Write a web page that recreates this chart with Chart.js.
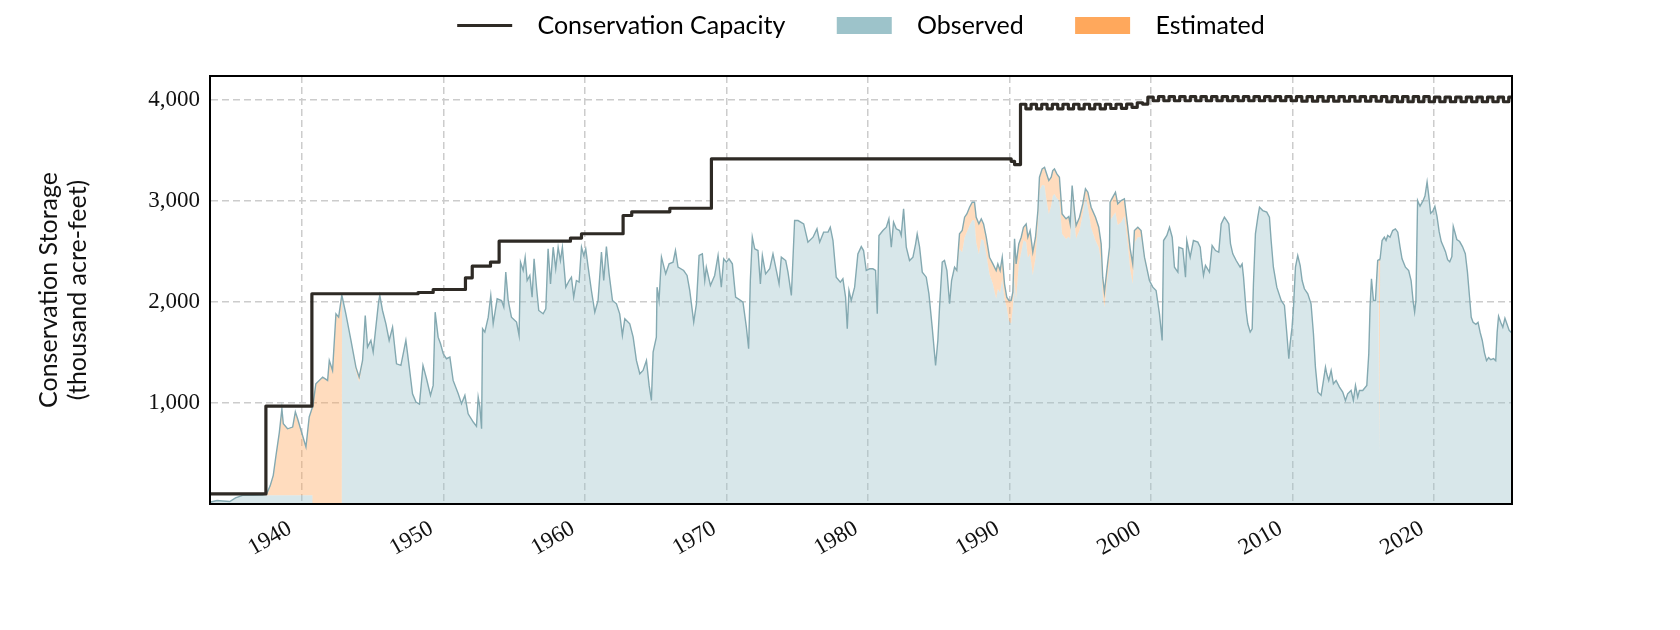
<!DOCTYPE html>
<html>
<head>
<meta charset="utf-8">
<title>Conservation Storage</title>
<script src="https://cdn.jsdelivr.net/npm/chart.js@4.4.1/dist/chart.umd.min.js"></script>
<style>
  html, body { margin: 0; padding: 0; background: #ffffff; }
  #wrap { width: 1680px; height: 630px; position: relative; }
</style>
</head>
<body>
<div id="wrap"><canvas id="storageChart"></canvas></div>
<script>
// ---------------------------------------
// Reservoir conservation storage, thousand acre-feet
// ---------------------------------------

// total storage line (observed + estimated)
const storageYears = [
  1933.55, 1934.0, 1934.4, 1934.9, 1935.3, 1935.8, 1936.5, 1937.2, 1937.5, 1937.75,
  1937.97, 1938.16, 1938.4, 1938.58, 1938.68, 1938.98, 1939.34, 1939.53, 1939.69, 1939.93,
  1940.28, 1940.51, 1940.74, 1940.76, 1940.98, 1941.46, 1941.81, 1941.93, 1942.16, 1942.4,
  1942.59, 1942.81, 1942.83, 1943.1, 1943.46, 1943.81, 1944.04, 1944.28, 1944.47, 1944.63,
  1944.87, 1945.03, 1945.41, 1945.5, 1945.69, 1945.93, 1946.16, 1946.4, 1946.68, 1946.99,
  1947.34, 1947.58, 1947.81, 1948.05, 1948.3, 1948.55, 1948.8, 1949.08, 1949.27, 1949.41,
  1949.62, 1949.79, 1949.98, 1950.21, 1950.45, 1950.68, 1951.04, 1951.27, 1951.51, 1951.74,
  1952.1, 1952.33, 1952.45, 1952.57, 1952.69, 1952.76, 1952.92, 1953.16, 1953.34, 1953.51,
  1953.79, 1954.1, 1954.26, 1954.4, 1954.57, 1954.8, 1955.16, 1955.34, 1955.44, 1955.63,
  1955.77, 1955.91, 1956.1, 1956.26, 1956.4, 1956.57, 1956.73, 1957.04, 1957.23, 1957.39,
  1957.56, 1957.75, 1957.93, 1958.1, 1958.26, 1958.4, 1958.64, 1958.88, 1959.04, 1959.2,
  1959.39, 1959.58, 1959.75, 1959.91, 1960.05, 1960.22, 1960.45, 1960.69, 1960.92, 1961.16,
  1961.32, 1961.51, 1961.7, 1961.94, 1962.22, 1962.45, 1962.64, 1962.81, 1963.16, 1963.4,
  1963.63, 1963.87, 1964.1, 1964.34, 1964.53, 1964.69, 1964.81, 1965.04, 1965.09, 1965.23,
  1965.4, 1965.7, 1965.94, 1966.22, 1966.39, 1966.57, 1966.97, 1967.21, 1967.4, 1967.68,
  1967.87, 1968.06, 1968.29, 1968.46, 1968.57, 1968.86, 1969.16, 1969.4, 1969.63, 1969.8,
  1969.99, 1970.17, 1970.41, 1970.64, 1970.93, 1971.16, 1971.4, 1971.56, 1971.68, 1971.82,
  1971.99, 1972.22, 1972.39, 1972.53, 1972.76, 1973.05, 1973.28, 1973.47, 1973.71, 1973.87,
  1974.18, 1974.34, 1974.58, 1974.81, 1975.05, 1975.45, 1975.75, 1976.11, 1976.39, 1976.58,
  1976.86, 1977.17, 1977.33, 1977.52, 1977.75, 1978.04, 1978.22, 1978.41, 1978.53, 1978.65,
  1978.81, 1979.05, 1979.28, 1979.52, 1979.68, 1979.87, 1980.11, 1980.34, 1980.53, 1980.65,
  1980.77, 1981.05, 1981.29, 1981.47, 1981.64, 1981.8, 1981.99, 1982.23, 1982.34, 1982.51,
  1982.7, 1982.93, 1983.17, 1983.36, 1983.47, 1983.64, 1983.83, 1984.11, 1984.3, 1984.53,
  1984.77, 1984.93, 1985.05, 1985.24, 1985.4, 1985.57, 1985.76, 1985.9, 1986.11, 1986.27,
  1986.46, 1986.65, 1986.82, 1986.98, 1987.17, 1987.36, 1987.52, 1987.64, 1987.83, 1988.0,
  1988.16, 1988.35, 1988.58, 1988.82, 1989.05, 1989.17, 1989.33, 1989.48, 1989.64, 1989.8,
  1989.95, 1990.11, 1990.23, 1990.35, 1990.46, 1990.65, 1990.82, 1990.98, 1991.17, 1991.29,
  1991.45, 1991.64, 1991.83, 1992.0, 1992.11, 1992.3, 1992.47, 1992.58, 1992.77, 1992.94,
  1993.05, 1993.17, 1993.34, 1993.52, 1993.71, 1993.99, 1994.18, 1994.28, 1994.42, 1994.58,
  1994.7, 1994.94, 1995.17, 1995.36, 1995.53, 1995.76, 1996.07, 1996.3, 1996.47, 1996.58,
  1996.7, 1996.87, 1997.06, 1997.1, 1997.29, 1997.48, 1997.64, 1997.88, 1998.11, 1998.35,
  1998.52, 1998.7, 1998.82, 1999.06, 1999.29, 1999.53, 1999.88, 2000.12, 2000.35, 2000.59,
  2000.78, 2000.88, 2001.11, 2001.3, 2001.49, 2001.65, 2001.89, 2001.96, 2002.24, 2002.43,
  2002.52, 2002.76, 2002.99, 2003.3, 2003.47, 2003.54, 2003.7, 2003.84, 2004.12, 2004.31,
  2004.55, 2004.78, 2004.95, 2005.18, 2005.35, 2005.49, 2005.61, 2005.77, 2006.01, 2006.29,
  2006.43, 2006.53, 2006.71, 2006.83, 2007.0, 2007.14, 2007.23, 2007.37, 2007.54, 2007.66,
  2007.89, 2008.17, 2008.36, 2008.48, 2008.64, 2008.88, 2009.19, 2009.42, 2009.59, 2009.73,
  2009.82, 2009.96, 2010.06, 2010.2, 2010.36, 2010.53, 2010.67, 2010.83, 2011.07, 2011.3,
  2011.47, 2011.61, 2011.78, 2012.01, 2012.18, 2012.32, 2012.41, 2012.55, 2012.72, 2012.88,
  2013.07, 2013.31, 2013.54, 2013.73, 2013.89, 2014.13, 2014.29, 2014.44, 2014.6, 2014.72,
  2014.95, 2015.24, 2015.38, 2015.47, 2015.57, 2015.71, 2015.85, 2016.01, 2016.08, 2016.11,
  2016.15, 2016.18, 2016.32, 2016.48, 2016.6, 2016.72, 2016.88, 2017.07, 2017.26, 2017.43,
  2017.59, 2017.73, 2017.97, 2018.2, 2018.37, 2018.52, 2018.62, 2018.71, 2018.83, 2019.0,
  2019.2, 2019.35, 2019.5, 2019.62, 2019.75, 2019.9, 2020.05, 2020.2, 2020.35, 2020.5,
  2020.65, 2020.8, 2020.95, 2021.1, 2021.25, 2021.35, 2021.45, 2021.6, 2021.8, 2022.0,
  2022.2, 2022.35, 2022.5, 2022.62, 2022.75, 2022.95, 2023.1, 2023.25, 2023.4, 2023.55,
  2023.7, 2023.85, 2024.0, 2024.2, 2024.35, 2024.45, 2024.55, 2024.7, 2024.85, 2025.0,
  2025.15, 2025.3, 2025.45
];

const storageValues = [
  20, 35, 30, 25, 60, 85, 86, 88, 100, 180,
  284, 478, 710, 942, 795, 745, 762, 912, 845, 730,
  565, 862, 960, 965, 1191, 1257, 1224, 1422, 1323, 1884,
  1851, 2066, 2060, 1884, 1620, 1356, 1257, 1422, 1867, 1554,
  1620, 1505, 2000, 2066, 1917, 1785, 1620, 1752, 1389, 1373,
  1620, 1356, 1092, 1010, 990, 1373, 1241, 1076, 1175, 1900,
  1653, 1587, 1488, 1439, 1455, 1224, 1092, 993, 1076, 894,
  812, 769, 1059, 960, 746, 1736, 1703, 1851, 2066, 1785,
  2033, 2016, 1950, 2297, 2016, 1851, 1802, 1670, 2396, 2313,
  2445, 2214, 2264, 2049, 2429, 2148, 1917, 1884, 1933, 2528,
  2181, 2544, 2330, 2544, 2412, 2544, 2148, 2214, 2247, 2049,
  2214, 2198, 2544, 2462, 2528, 2346, 2115, 1900, 2016, 2495,
  2214, 2550, 2280, 2016, 1983, 1884, 1670, 1835, 1785, 1653,
  1422, 1290, 1323, 1422, 1175, 1026, 1505, 1653, 2148, 2016,
  2445, 2280, 2379, 2396, 2511, 2346, 2313, 2264, 2115, 1802,
  1983, 2462, 2478, 2214, 2346, 2165, 2264, 2462, 2148, 2429,
  2396, 2429, 2379, 2049, 2023, 2000, 1752, 1538, 2214, 2643,
  2528, 2511, 2181, 2462, 2280, 2330, 2478, 2346, 2181, 2445,
  2412, 2297, 2066, 2808, 2808, 2775, 2594, 2643, 2726, 2594,
  2693, 2693, 2742, 2610, 2247, 2198, 2231, 2049, 1736, 2115,
  2016, 2148, 2478, 2550, 2511, 2313, 2330, 2330, 2313, 1884,
  2660, 2709, 2742, 2825, 2544, 2792, 2726, 2709, 2660, 2924,
  2544, 2412, 2445, 2577, 2676, 2544, 2297, 2247, 2082, 1752,
  1373, 1620, 1950, 2396, 2412, 2313, 1984, 2214, 2346, 2313,
  2676, 2709, 2841, 2874, 2940, 2990, 2990, 2841, 2775, 2825,
  2775, 2643, 2445, 2379, 2313, 2379, 2313, 2445, 2181, 2049,
  2016, 2016, 2099, 2627, 2379, 2577, 2643, 2742, 2775, 2643,
  2709, 2495, 2643, 2907, 3237, 3320, 3336, 3287, 3204, 3237,
  3303, 3320, 3270, 3237, 2874, 2825, 2848, 2775, 3155, 2907,
  2759, 2841, 2973, 3122, 3089, 2940, 2841, 2742, 2577, 2247,
  2099, 2313, 2544, 2990, 3040, 3089, 2973, 3006, 3023, 2742,
  2528, 2379, 2709, 2742, 2709, 2445, 2214, 2148, 2115, 1884,
  1620, 2610, 2660, 2742, 2643, 2346, 2297, 2544, 2528, 2247,
  2610, 2445, 2610, 2594, 2544, 2445, 2264, 2363, 2297, 2561,
  2511, 2495, 2775, 2841, 2808, 2775, 2577, 2478, 2412, 2346,
  2379, 2247, 1917, 1785, 1703, 1736, 2181, 2676, 2841, 2940,
  2907, 2891, 2841, 2610, 2346, 2148, 2016, 1967, 1686, 1439,
  1587, 1752, 1950, 2346, 2462, 2363, 2214, 2132, 2082, 1983,
  1686, 1356, 1109, 1076, 1224, 1356, 1290, 1224, 1323, 1191,
  1224, 1158, 1109, 1026, 1092, 1125, 1026, 1175, 1059, 1125,
  1125, 1175, 1488, 1950, 2231, 2016, 2016, 2412, 2418, 2420,
  2424, 2429, 2610, 2643, 2610, 2660, 2643, 2709, 2726, 2693,
  2544, 2429, 2346, 2313, 2214, 2000, 1903, 2017, 3006, 2950,
  3000, 3050, 3190, 3050, 2880, 2900, 2950, 2850, 2700, 2600,
  2550, 2500, 2420, 2400, 2450, 2750, 2700, 2620, 2600, 2550,
  2480, 2300, 2050, 1850, 1800, 1780, 1800, 1700, 1620, 1500,
  1420, 1450, 1430, 1440, 1420, 1700, 1860, 1800, 1750, 1840,
  1780, 1720, 1700
];

// estimated part of the storage (sits on top of the observed part)
const estYears = [
  1937.5, 1937.75, 1937.97, 1938.16, 1938.4, 1938.58, 1938.68, 1938.98, 1939.34, 1939.53,
  1939.69, 1939.93, 1940.28, 1940.51, 1940.74, 1940.76, 1940.98, 1941.46, 1941.81, 1941.93,
  1942.16, 1942.4, 1942.59, 1942.81, 1943.81, 1944.04, 1944.28,
  1986.27, 1986.46, 1986.65, 1986.82, 1986.98, 1987.17, 1987.36, 1987.52, 1987.64, 1987.83,
  1988.0, 1988.16, 1988.35, 1988.58, 1988.82, 1989.05, 1989.17, 1989.33, 1989.48, 1989.64,
  1989.8, 1989.95, 1990.11, 1990.23, 1990.35, 1990.46, 1990.65, 1990.82, 1990.98, 1991.17,
  1991.29, 1991.45, 1991.64, 1991.83, 1992.0, 1992.11, 1992.3, 1992.47, 1992.58, 1992.77,
  1992.94, 1993.05, 1993.17, 1993.34, 1993.52, 1993.71, 1993.99, 1994.18, 1994.28, 1994.42,
  1994.58, 1994.7, 1994.94, 1995.17, 1995.36, 1995.53, 1995.76, 1996.07, 1996.3, 1996.47,
  1996.58, 1996.7, 1996.87, 1997.06, 1997.1, 1997.29, 1997.48, 1997.64, 1997.88, 1998.11,
  1998.35, 1998.52, 1998.7, 1998.82, 1999.06, 1999.29, 1999.53, 2016.11, 2016.15
];

const estValues = [
  14, 94, 198, 392, 624, 856, 709, 659, 676, 826,
  759, 644, 479, 776, 874, 965, 1191, 1257, 1224, 1422,
  1323, 1884, 1851, 2066, 40, 50, 30,
  20, 150, 215, 200, 180, 180, 180, 180, 250, 300,
  200, 165, 165, 170, 200, 280, 250, 220, 215, 150,
  100, 200, 230, 150, 400, 350, 200, 150, 130, 180,
  200, 230, 230, 200, 150, 130, 160, 180, 250, 330,
  280, 250, 250, 240, 230, 200, 200, 200, 150, 65,
  100, 130, 130, 100, 65, 150, 200, 230, 200, 180,
  165, 150, 130, 150, 180, 190, 200, 210, 215, 170,
  170, 200, 200, 120, 100, 65, 30, 1920, 1924
];

// conservation capacity, each value holds from its year to the next
const capYears = [
  1933.5, 1937.45, 1940.7, 1948.2, 1949.27, 1951.55, 1952.03, 1953.32, 1953.93, 1958.97,
  1959.75, 1962.69, 1963.3, 1965.99, 1968.93, 1990.11, 1990.35, 1990.77,
  1991.15, 1991.52, 1991.90, 1992.27, 1992.65, 1993.02, 1993.40, 1993.77, 1994.15, 1994.52,
  1994.90, 1995.27, 1995.65, 1996.02, 1996.40, 1996.77, 1997.15, 1997.52, 1997.90, 1998.27,
  1998.65, 1999.02, 1999.40, 1999.77, 2000.15, 2000.52, 2000.90, 2001.27, 2001.65, 2002.02,
  2002.40, 2002.77, 2003.15, 2003.52, 2003.90, 2004.27, 2004.65, 2005.02, 2005.40, 2005.77,
  2006.15, 2006.52, 2006.90, 2007.27, 2007.65, 2008.02, 2008.40, 2008.77, 2009.15, 2009.52,
  2009.90, 2010.27, 2010.65, 2011.02, 2011.40, 2011.77, 2012.15, 2012.52, 2012.90, 2013.27,
  2013.65, 2014.02, 2014.40, 2014.77, 2015.15, 2015.52, 2015.90, 2016.27, 2016.65, 2017.02,
  2017.40, 2017.77, 2018.15, 2018.52, 2018.90, 2019.27, 2019.65, 2020.02, 2020.40, 2020.77,
  2021.15, 2021.52, 2021.90, 2022.27, 2022.65, 2023.02, 2023.40, 2023.77, 2024.15, 2024.52,
  2024.90, 2025.27, 2025.5
];

const capValues = [
  100, 970, 2083, 2095, 2125, 2241, 2356, 2396, 2604, 2634,
  2677, 2858, 2894, 2930, 3419, 3395, 3363, 3960,
  3915, 3960, 3915, 3960, 3915, 3960, 3915, 3960, 3915, 3960,
  3915, 3960, 3915, 3960, 3915, 3960, 3918, 3960, 3920, 3962,
  3930, 3975, 3962, 4030, 3995, 4035, 3995, 4035, 3995, 4035,
  3995, 4035, 3995, 4035, 3995, 4035, 3995, 4035, 3995, 4035,
  3995, 4035, 3995, 4035, 3995, 4035, 3995, 4035, 3995, 4035,
  3995, 4035, 3990, 4035, 3990, 4035, 3990, 4035, 3990, 4035,
  3990, 4035, 3990, 4035, 3990, 4035, 3990, 4035, 3985, 4035,
  3985, 4035, 3985, 4035, 3985, 4035, 3985, 4030, 3985, 4030,
  3985, 4030, 3985, 4030, 3985, 4030, 3985, 4030, 3985, 4030,
  3985, 4030, 4030
];

const xTicks = [1940, 1950, 1960, 1970, 1980, 1990, 2000, 2010, 2020];
const yTicks = [1000, 2000, 3000, 4000];

// ---------------------------------------
// build points
// ---------------------------------------
const estByYear = new Map(estYears.map((y, i) => [y, estValues[i]]));

const totalPoints = storageYears.map((x, i) => ({ x: x, y: storageValues[i] }));
const observedPoints = storageYears.map((x, i) => ({
    x: x,
    y: storageValues[i] - (estByYear.get(x) || 0)
}));
const capacityPoints = capYears.map((x, i) => ({ x: x, y: capValues[i] }));

const serif = "'Liberation Serif', 'DejaVu Serif', serif";
const sans = "Lato, 'Open Sans', sans-serif";

const capColor = "#2e2a25";
const lineTeal = "#84a9b1";

// spaces widen the gaps between legend entries
const legendItems = [
    { text: "  Conservation Capacity      ", pointStyle: "line", strokeStyle: capColor, fillStyle: capColor, lineWidth: 3.2, hidden: false, datasetIndex: 2 },
    { text: "  Observed      ", pointStyle: "rect", strokeStyle: "#9dc3ca", fillStyle: "#9dc3ca", lineWidth: 0, hidden: false, datasetIndex: 0 },
    { text: "  Estimated", pointStyle: "rect", strokeStyle: "#ffa85c", fillStyle: "#ffa85c", lineWidth: 0, hidden: false, datasetIndex: 1 }
];

new Chart(document.getElementById("storageChart"), {

    type: "line",

    data: {
        datasets: [
            {
                label: "Observed",
                data: observedPoints,
                borderColor: "rgba(0,0,0,0)",
                borderWidth: 0,
                backgroundColor: "rgba(157,195,202,0.4)",
                fill: "origin",
                pointRadius: 0,
                order: 2
            },
            {
                label: "Estimated",
                data: totalPoints,
                borderColor: lineTeal,
                borderWidth: 1.4,
                backgroundColor: "rgba(255,168,92,0.4)",
                fill: "-1",
                pointRadius: 0,
                order: 1
            },
            {
                label: "Conservation Capacity",
                data: capacityPoints,
                borderColor: capColor,
                borderWidth: 3.2,
                borderJoinStyle: "round",
                borderCapStyle: "round",
                stepped: "before",
                fill: false,
                pointRadius: 0,
                order: 0
            }
        ]
    },

    options: {
        responsive: true,
        maintainAspectRatio: false,
        animation: false,
        layout: { padding: 0 },

        plugins: {
            legend: {
                position: "top",
                align: "center",
                fullSize: false,
                labels: {
                    usePointStyle: true,
                    pointStyleWidth: 55,
                    boxWidth: 55,
                    boxHeight: 17,
                    padding: 13,
                    color: "#111111",
                    font: { family: sans, size: 25 },
                    generateLabels: () => legendItems
                }
            },
            tooltip: { enabled: false }
        },

        scales: {
            x: {
                type: "linear",
                min: 1933.5,
                max: 2025.5,
                afterBuildTicks: axis => { axis.ticks = xTicks.map(v => ({ value: v })); },
                afterFit: axis => { axis.height = 126; },
                grid: { color: "#cccccc", lineWidth: 1.5, drawTicks: false },
                border: { color: "#000000", width: 2, dash: [7, 4], z: 1 },
                ticks: {
                    color: "#111111",
                    font: { family: serif, size: 23 },
                    padding: 11,
                    labelOffset: -12,
                    minRotation: 30,
                    maxRotation: 30,
                    callback: v => String(v)
                }
            },
            x2: {
                type: "linear",
                position: "top",
                min: 0,
                max: 1,
                grid: { display: false },
                ticks: { display: false },
                border: { color: "#000000", width: 2, z: 1 },
                afterFit: axis => { axis.height = 28; }
            },
            y: {
                type: "linear",
                min: 0,
                max: 4240,
                afterBuildTicks: axis => { axis.ticks = yTicks.map(v => ({ value: v })); },
                afterFit: axis => { axis.width = 210; },
                grid: { color: "#cccccc", lineWidth: 1.5, drawTicks: false },
                border: { color: "#000000", width: 2, dash: [7, 4], z: 1 },
                ticks: {
                    color: "#111111",
                    font: { family: serif, size: 23 },
                    padding: 10,
                    callback: v => v.toLocaleString("en-US")
                },
                title: {
                    display: true,
                    text: ["Conservation Storage", "(thousand acre-feet)"],
                    color: "#111111",
                    font: { family: sans, size: 25, lineHeight: 1.16 },
                    padding: { top: 34, bottom: 0 }
                }
            },
            y2: {
                type: "linear",
                position: "right",
                grid: { display: false },
                ticks: { display: false },
                border: { color: "#000000", width: 2, z: 1 },
                afterFit: axis => { axis.width = 168; }
            }
        }
    }
});
</script>
</body>
</html>
